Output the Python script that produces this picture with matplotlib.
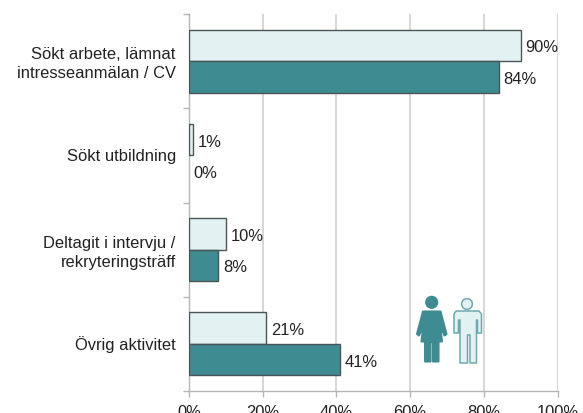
import numpy as np
import matplotlib
matplotlib.use("Agg")
import matplotlib.pyplot as plt
from matplotlib.patches import Circle, Polygon
from matplotlib.transforms import Affine2D, ScaledTranslation

categories = ["Sökt arbete, lämnat\nintresseanmälan / CV", "Sökt utbildning",
              "Deltagit i intervju /\nrekryteringsträff", "Övrig aktivitet"]
men = [90, 1, 10, 21]
women = [84, 0, 8, 41]
xticks = [0, 20, 40, 60, 80, 100]

W, H = 583, 414
LIGHT = "#e2f1f2"
TEAL = "#3e8b91"
DARK = "#4a5557"
GRID = "#d0d0d0"
AXIS = "#b5b5b5"
TEXT = "#222222"

plt.rcParams["font.family"] = ["Liberation Sans", "DejaVu Sans"]
fig = plt.figure(figsize=(W / 100, H / 100), dpi=100)
ax = fig.add_axes([189 / W, 1 - 392 / H, (557.5 - 189) / W, (392 - 15) / H])

y = np.arange(len(categories))
h = 0.335
ax.barh(y - h / 2, men, h, color=LIGHT, edgecolor=DARK, linewidth=1, zorder=3)
ax.barh(y + h / 2, [v if v > 0 else np.nan for v in women], h, color=TEAL,
        edgecolor=DARK, linewidth=1, zorder=3)

fs = 11.9
down = ScaledTranslation(0, -1.5 / 100, fig.dpi_scale_trans)
for i in y:
    ax.text(men[i] + 1.3, i - h / 2, f"{men[i]}%", va="center", ha="left", fontsize=fs,
            color=TEXT, zorder=5, clip_on=False, transform=ax.transData + down)
    ax.text(women[i] + 1.3, i + h / 2, f"{women[i]}%", va="center", ha="left", fontsize=fs,
            color=TEXT, zorder=5, clip_on=False, transform=ax.transData + down)

ax.set_xlim(0, 100)
ax.set_ylim(len(categories) - 0.5, -0.5)
ax.set_xticks(xticks)
ax.set_xticklabels([f"{t}%" for t in xticks], fontsize=fs, color=TEXT)
# zero-length ticks, nudged a little so the labels sit as in the original
ax.set_yticks(y - 0.015)
ax.set_yticklabels(categories, fontsize=fs, color=TEXT, linespacing=1.32)
ax.set_yticks(np.arange(len(categories) + 1) - 0.5, minor=True)
ax.tick_params(axis="y", which="major", length=0, pad=9.5)
ax.tick_params(axis="y", which="minor", length=4.5, width=1, color=AXIS)
ax.tick_params(axis="x", length=4, width=1, color=AXIS, pad=5.5)
ax.grid(axis="x", color=GRID, linewidth=1.2, zorder=0)
ax.set_axisbelow(True)
for s in ("top", "right"):
    ax.spines[s].set_visible(False)
for s in ("left", "bottom"):
    ax.spines[s].set_color(AXIS)
    ax.spines[s].set_linewidth(1)

# icons, placed in pixels from the top left
px = Affine2D().scale(1, -1).translate(0, H)
def add(p):
    p.set_transform(px)
    p.set_zorder(6)
    fig.add_artist(p)

add(Circle((431.7, 303.3), 6.6, fc=TEAL, ec="none"))
add(Polygon([(423, 312.5), (440.5, 312.5), (446.5, 335), (444.5, 336.5), (440, 326),
             (442, 342.5), (438.5, 342.5), (438.5, 362.5), (433, 362.5), (433, 343), (430.5, 343),
             (430.5, 362.5), (425, 362.5), (425, 342.5), (421.5, 342.5), (423.5, 326), (419, 336.5),
             (417, 335)], closed=True, fc=TEAL, ec=TEAL, lw=1.5, joinstyle="round"))

add(Polygon([(456, 312), (479, 312), (481.5, 315), (481.5, 334), (477.5, 334), (477.5, 321),
             (476.5, 321), (476.5, 364), (470, 364), (470, 336), (467.5, 336), (467.5, 364),
             (460, 364), (460, 321), (458.5, 321), (458.5, 334), (454, 334), (454, 315)],
            closed=True, fc=LIGHT, ec="#6fa9ad", lw=1.1, joinstyle="round"))
add(Circle((467, 305), 5.4, fc=LIGHT, ec="#6fa9ad", lw=1.1))

fig.savefig("out.png", dpi=100)
